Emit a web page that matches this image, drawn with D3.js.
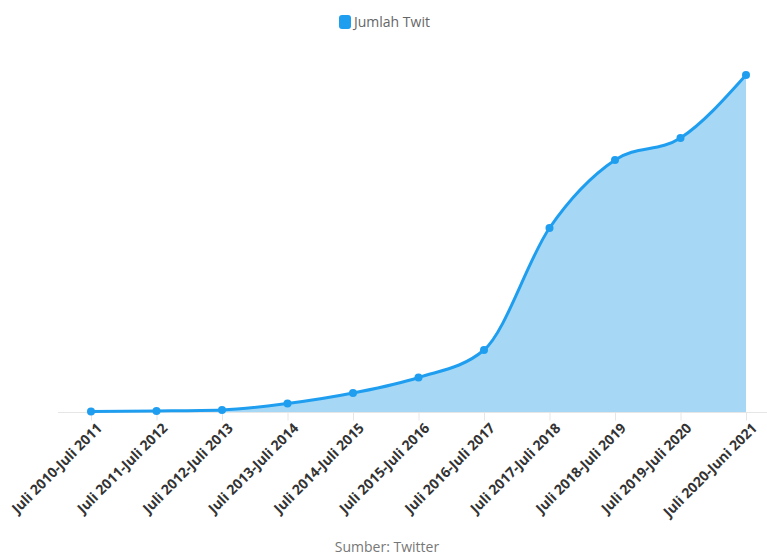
<!DOCTYPE html>
<html>
<head>
<meta charset="utf-8">
<script src="https://cdn.jsdelivr.net/npm/d3@7"></script>
<style>
  body { margin: 0; background: #fff; }
  text { font-family: "Open Sans", "Noto Sans", sans-serif; }
</style>
</head>
<body>
<svg id="chart" width="767" height="555"></svg>
<script>
// categories and values
const periods = ["Juli 2010-Juli 2011", "Juli 2011-Juli 2012", "Juli 2012-Juli 2013",
  "Juli 2013-Juli 2014", "Juli 2014-Juli 2015", "Juli 2015-Juli 2016", "Juli 2016-Juli 2017",
  "Juli 2017-Juli 2018", "Juli 2018-Juli 2019", "Juli 2019-Juli 2020", "Juli 2020-Juni 2021"];
const tweets = [0.5, 1, 2, 8.5, 19, 34.5, 62, 184, 252, 274, 337];
const seriesName = "Jumlah Twit";
const creditText = "Sumber: Twitter";

const svg = d3.select("#chart");
const lineColor = "#1f9ef0";
const fillColor = "#a6d8f6";

// scales
const x = d3.scalePoint()
    .domain(periods)
    .range([91, 746]);
const y = d3.scaleLinear()
    .domain([0, 350])
    .range([412, 62]);

// baseline grid line
svg.append("line")
    .attr("x1", 58)
    .attr("x2", 767)
    .attr("y1", y(0) + 0.5)
    .attr("y2", y(0) + 0.5)
    .attr("stroke", "#e6e6e6");

// area + line
const area = d3.area()
    .x((d, i) => x(periods[i]))
    .y0(y(0))
    .y1(d => y(d))
    .curve(d3.curveMonotoneX);

const line = d3.line()
    .x((d, i) => x(periods[i]))
    .y(d => y(d))
    .curve(d3.curveMonotoneX);

svg.append("path")
    .datum(tweets)
    .attr("d", area)
    .attr("fill", fillColor);

// x axis (ticks + rotated labels)
const xAxis = svg.append("g")
    .attr("transform", "translate(0," + (y(0) + 0.5) + ")")
    .call(d3.axisBottom(x).tickSize(8).tickSizeOuter(0));
xAxis.select(".domain").remove();
xAxis.selectAll(".tick line").attr("stroke", "#e6e6e6");
xAxis.selectAll(".tick text")
    .attr("fill", "#333")
    .attr("font-size", "14px")
    .attr("font-weight", "bold")
    .attr("text-anchor", "end")
    .attr("transform", "translate(8,13) rotate(-45)")
    .attr("dy", "0.35em")
    .attr("y", 0)
    .attr("x", 0);

svg.append("path")
    .datum(tweets)
    .attr("d", line)
    .attr("fill", "none")
    .attr("stroke", lineColor)
    .attr("stroke-width", 3);

// markers
svg.selectAll(".pt")
    .data(tweets)
    .enter()
    .append("circle")
    .attr("class", "pt")
    .attr("cx", (d, i) => x(periods[i]))
    .attr("cy", d => y(d))
    .attr("r", 4)
    .attr("fill", lineColor);

// legend
const legend = svg.append("g").attr("transform", "translate(339,15)");
legend.append("rect")
    .attr("width", 12)
    .attr("height", 14)
    .attr("rx", 3)
    .attr("fill", lineColor);
legend.append("text")
    .attr("x", 15)
    .attr("y", 12)
    .attr("font-size", "14px")
    .attr("fill", "#666")
    .text(seriesName);

// credit
svg.append("text")
    .attr("x", 387)
    .attr("y", 552)
    .attr("text-anchor", "middle")
    .attr("font-size", "14px")
    .attr("fill", "#777")
    .text(creditText);
</script>
</body>
</html>
